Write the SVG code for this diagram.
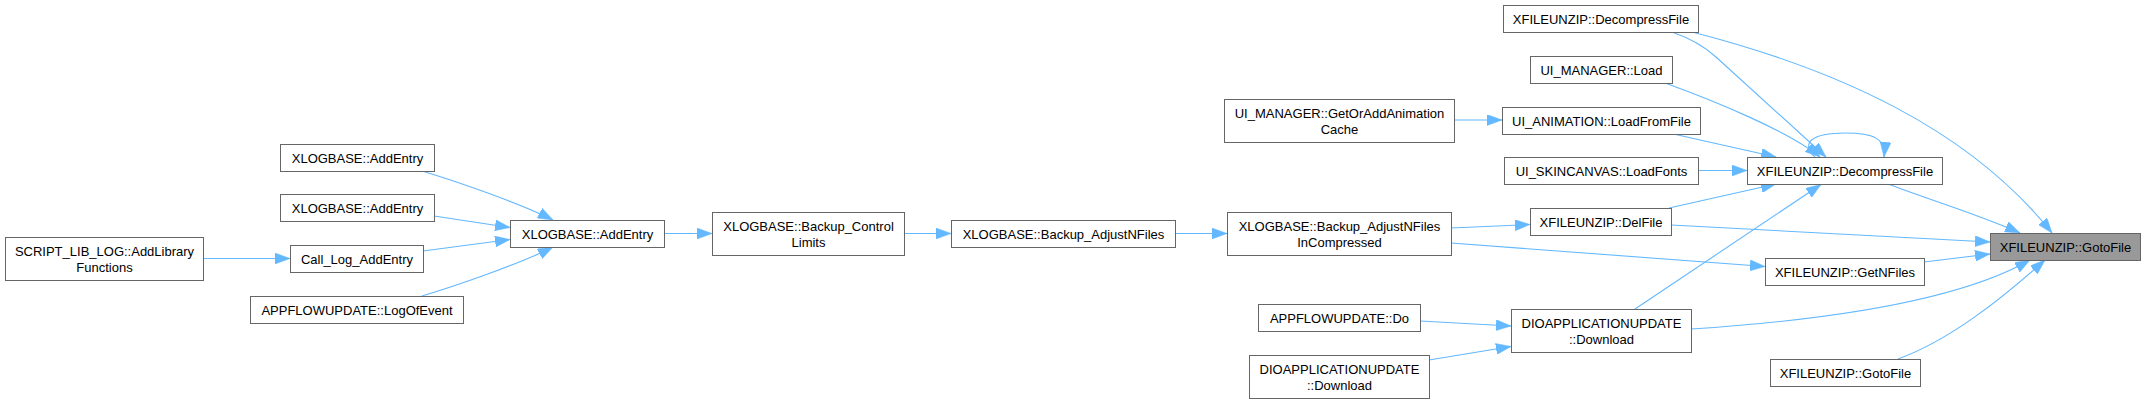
<svg xmlns="http://www.w3.org/2000/svg" width="2145" height="403" viewBox="0 0 2145 403">
<style>
.n rect{fill:#ffffff;stroke:#666666;stroke-width:1}
.m rect{fill:#999999;stroke:#666666;stroke-width:1}
text{font-family:"Liberation Sans",Arial,sans-serif;font-size:13px;fill:#000000;text-anchor:middle}
.e path{fill:none;stroke:#63b8ff;stroke-width:1.1;marker-end:url(#ah)}
</style>
<defs>
<marker id="ah" markerUnits="userSpaceOnUse" markerWidth="15" markerHeight="11" viewBox="0 0 15 11" refX="15" refY="5.5" orient="auto">
<path d="M0,0 L15,5.5 L0,11 z" fill="#63b8ff" stroke="#63b8ff" stroke-width="0.5"/>
</marker>
</defs>
<rect width="2145" height="403" fill="#ffffff"/>
<g id="edges" class="e">
<path d="M203,258.5 L290,258.5"/>
<path d="M422,171 C452,180 520,203 553,220"/>
<path d="M434,216 L510,227.5"/>
<path d="M423,251 L510,239.5"/>
<path d="M422,296 C452,287 520,264 553,247"/>
<path d="M664,233.5 L712,233.5"/>
<path d="M904,233.5 L951,233.5"/>
<path d="M1175,233.5 L1227,233.5"/>
<path d="M1454,120 L1502,120"/>
<path d="M1451,228 L1530,224.5"/>
<path d="M1451,243 L1765,266.5"/>
<path d="M1420,321 L1511,326"/>
<path d="M1429,360 L1511,346.5"/>
<path d="M1669,133 L1776,157"/>
<path d="M1698,170.5 L1747,170.5"/>
<path d="M1669,208 L1776,184"/>
<path d="M1635,309 L1821,184.5"/>
<path d="M1665,83 C1715,101 1790,132 1820,157"/>
<path d="M1672,32 C1692,39 1704,46 1716,57 L1826,157"/>
<path d="M1815,157 C1800,143 1812,133 1845,133 C1873,133 1886,138 1884,157"/>
<path d="M1692,32 C1840,70 1970,130 2052,233"/>
<path d="M1888,184 C1930,200 1980,215 2020,233"/>
<path d="M1671,225 L1990,242"/>
<path d="M1924,262 L1990,254"/>
<path d="M1691,329 C1830,320 1960,300 2030,260"/>
<path d="M1898,359 C1950,340 2000,300 2045,260"/>
</g>
<g id="n1" class="n"><rect x="5.5" y="237.5" width="198" height="43"/><text x="104.5" y="256">SCRIPT_LIB_LOG::AddLibrary</text><text x="104.5" y="272">Functions</text></g>
<g id="n2" class="n"><rect x="290.5" y="245.5" width="133" height="27"/><text x="357" y="264">Call_Log_AddEntry</text></g>
<g id="n3" class="n"><rect x="280.5" y="144.5" width="154" height="27"/><text x="357.5" y="163">XLOGBASE::AddEntry</text></g>
<g id="n4" class="n"><rect x="280.5" y="194.5" width="154" height="27"/><text x="357.5" y="213">XLOGBASE::AddEntry</text></g>
<g id="n5" class="n"><rect x="250.5" y="296.5" width="213" height="27"/><text x="357" y="315">APPFLOWUPDATE::LogOfEvent</text></g>
<g id="n6" class="n"><rect x="510.5" y="220.5" width="154" height="27"/><text x="587.5" y="239">XLOGBASE::AddEntry</text></g>
<g id="n7" class="n"><rect x="712.5" y="212.5" width="192" height="43"/><text x="808.5" y="231">XLOGBASE::Backup_Control</text><text x="808.5" y="247">Limits</text></g>
<g id="n8" class="n"><rect x="951.5" y="220.5" width="224" height="27"/><text x="1063.5" y="239">XLOGBASE::Backup_AdjustNFiles</text></g>
<g id="n9" class="n"><rect x="1227.5" y="212.5" width="224" height="43"/><text x="1339.5" y="231">XLOGBASE::Backup_AdjustNFiles</text><text x="1339.5" y="247">InCompressed</text></g>
<g id="n10" class="n"><rect x="1224.5" y="99.5" width="230" height="43"/><text x="1339.5" y="118">UI_MANAGER::GetOrAddAnimation</text><text x="1339.5" y="134">Cache</text></g>
<g id="n11" class="n"><rect x="1258.5" y="304.5" width="162" height="27"/><text x="1339.5" y="323">APPFLOWUPDATE::Do</text></g>
<g id="n12" class="n"><rect x="1249.5" y="355.5" width="180" height="43"/><text x="1339.5" y="374">DIOAPPLICATIONUPDATE</text><text x="1339.5" y="390">::Download</text></g>
<g id="n13" class="n"><rect x="1503.5" y="5.5" width="195" height="27"/><text x="1601" y="24">XFILEUNZIP::DecompressFile</text></g>
<g id="n14" class="n"><rect x="1530.5" y="56.5" width="142" height="27"/><text x="1601.5" y="75">UI_MANAGER::Load</text></g>
<g id="n15" class="n"><rect x="1502.5" y="107.5" width="198" height="27"/><text x="1601.5" y="126">UI_ANIMATION::LoadFromFile</text></g>
<g id="n16" class="n"><rect x="1504.5" y="157.5" width="194" height="27"/><text x="1601.5" y="176">UI_SKINCANVAS::LoadFonts</text></g>
<g id="n17" class="n"><rect x="1530.5" y="208.5" width="141" height="27"/><text x="1601" y="227">XFILEUNZIP::DelFile</text></g>
<g id="n18" class="n"><rect x="1511.5" y="309.5" width="180" height="43"/><text x="1601.5" y="328">DIOAPPLICATIONUPDATE</text><text x="1601.5" y="344">::Download</text></g>
<g id="n19" class="n"><rect x="1747.5" y="157.5" width="195" height="27"/><text x="1845" y="176">XFILEUNZIP::DecompressFile</text></g>
<g id="n20" class="n"><rect x="1765.5" y="258.5" width="159" height="27"/><text x="1845" y="277">XFILEUNZIP::GetNFiles</text></g>
<g id="n21" class="n"><rect x="1770.5" y="359.5" width="150" height="27"/><text x="1845.5" y="378">XFILEUNZIP::GotoFile</text></g>
<g id="n22" class="m"><rect x="1990.5" y="233.5" width="150" height="27"/><text x="2065.5" y="252">XFILEUNZIP::GotoFile</text></g>
</svg>
